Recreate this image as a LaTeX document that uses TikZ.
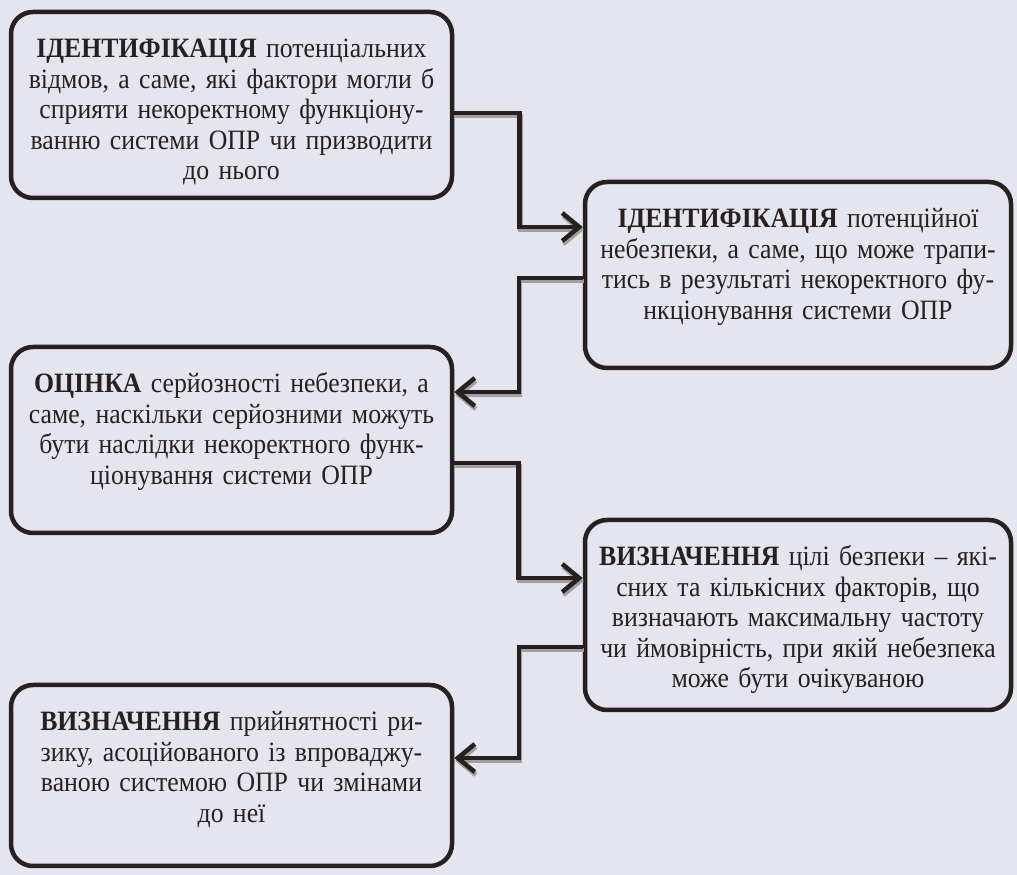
\documentclass[tikz,border=0pt]{standalone}
\usepackage{fontspec}
\setmainfont{Liberation Serif}[FakeStretch=0.92]
\usepackage{tikz}
\usetikzlibrary{positioning,calc,arrows.meta}

\definecolor{paper}{RGB}{228,229,239}
\definecolor{ink}{RGB}{40,32,30}
\definecolor{shade}{RGB}{160,158,160}

\tikzset{
    stagebox/.style={draw=ink, line width=4.5pt, rounded corners=22pt, align=center,
        inner xsep=2pt, inner ysep=0pt, text=ink, font=\fontsize{28}{30.5}\selectfont,
        text height=46pt, text depth=140pt},
    leftbox/.style={stagebox, text width=437pt},
    rightbox/.style={stagebox, text width=422pt},
    link/.style={draw=ink, line width=4.5pt,
        preaction={draw=shade, line width=4.5pt, transform canvas={shift={(1pt,-3pt)}}}},
    tip/.style={-{Straight Barb[length=17pt,width=28pt]}}
}

\begin{document}
\begin{tikzpicture}[x=1pt,y=1pt]
    \fill[paper] (0,0) rectangle (1017,875);
    \useasboundingbox (0,0) rectangle (1017,875);

    \node[leftbox] (identfail) at (231.5,770) {\textbf{ІДЕНТИФІКАЦІЯ} потенціальних\\відмов, а саме, які фактори могли б\\сприяти некоректному функціону-\\ванню системи ОПР чи призводити\\до нього};
    \node[rightbox] (identhazard) at (798,600) {\textbf{ІДЕНТИФІКАЦІЯ} потенційної\\небезпеки, а саме, що може трапи-\\тись в результаті некоректного фу-\\нкціонування системи ОПР};
    \node[leftbox] (evalrisk) at (231.5,435) {\textbf{ОЦІНКА} серйозності небезпеки, а\\саме, наскільки серйозними можуть\\бути наслідки некоректного функ-\\ціонування системи ОПР};
    \node[rightbox, text depth=144pt] (safetygoal) at (798,260) {\textbf{ВИЗНАЧЕННЯ} цілі безпеки – які-\\сних та кількісних факторів, що\\визначають максимальну частоту\\чи ймовірність, при якій небезпека\\може бути очікуваною};
    \node[leftbox, text depth=135pt] (acceptrisk) at (231.5,99.5) {\textbf{ВИЗНАЧЕННЯ} прийнятності ри-\\зику, асоційованого із впроваджу-\\ваною системою ОПР чи змінами\\до неї};

    % zigzag between the two columns
    \draw[link,tip] ([yshift=-8pt]identfail.east) -- ++(65pt,0) |- ([yshift=48pt]identhazard.west);
    \draw[link,tip] ([yshift=-3pt]identhazard.west) -- ++(-64pt,0) |- ([yshift=48pt]evalrisk.east);
    \draw[link,tip] ([yshift=-23pt]evalrisk.east) -- ++(64pt,0) |- ([yshift=37pt]safetygoal.west);
    \draw[link,tip] ([yshift=-32pt]safetygoal.west) -- ++(-64pt,0) |- ([yshift=17.5pt]acceptrisk.east);
\end{tikzpicture}
\end{document}
